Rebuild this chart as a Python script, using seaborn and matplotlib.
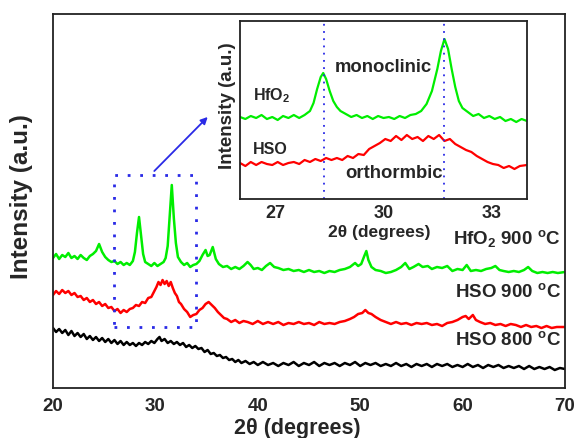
import numpy as np
import pandas as pd
import matplotlib
matplotlib.use("Agg")
import matplotlib.pyplot as plt
import seaborn as sns

# ---------------- data ----------------
green_x = [20.0,20.3,20.6,20.9,21.2,21.5,21.8,22.1,22.4,22.7,23.0,23.3,23.6,23.9,24.2,24.5,24.8,25.1,25.4,25.7,
           26.0,26.3,26.6,26.9,27.2,27.5,27.8,28.0,28.2,28.4,28.6,28.8,29.0,29.3,29.6,29.9,30.2,30.5,30.8,31.0,
           31.2,31.4,31.6,31.8,32.0,32.2,32.5,32.8,33.1,33.4,33.7,34.0,34.3,34.6,34.9,35.1,35.3,35.6,35.9,36.2,
           36.6,37.0,37.4,37.8,38.2,38.6,39.0,39.3,39.6,40.0,40.4,40.8,41.2,41.6,42.0,42.5,43.0,43.5,44.0,44.5,
           45.0,45.5,46.0,46.5,47.0,47.5,48.0,48.5,49.0,49.5,49.8,50.1,50.4,50.6,50.8,51.1,51.5,52.0,52.5,53.0,
           53.5,54.0,54.4,54.8,55.2,55.7,56.1,56.6,57.0,57.5,58.0,58.5,59.0,59.5,60.0,60.4,60.8,61.3,61.8,62.3,
           62.8,63.2,63.6,64.0,64.5,65.0,65.5,66.0,66.4,66.8,67.3,67.8,68.3,68.8,69.3,70.0]
green_y = [130,134,129,133,131,135,130,132,129,133,130,128,132,134,137,144,136,131,128,126,
           127,124,126,123,125,123,127,136,155,171,152,134,126,124,122,125,122,124,126,130,
           142,172,203,170,145,131,126,123,125,121,123,124,127,133,138,132,133,141,129,124,
           121,122,119,121,119,122,126,123,119,120,118,122,125,121,120,118,119,117,118,116,
           118,116,117,115,117,116,118,119,121,125,122,124,132,137,128,121,118,117,115,116,
           118,121,125,119,121,124,121,122,119,121,120,122,117,119,118,123,117,118,117,119,
           120,122,118,117,116,117,116,118,121,117,115,116,115,116,115,116]

red_x = [20.0,20.3,20.6,20.9,21.2,21.5,21.8,22.1,22.4,22.7,23.0,23.3,23.6,23.9,24.2,24.5,24.8,25.1,25.4,25.7,
         26.0,26.3,26.6,26.9,27.2,27.5,27.8,28.1,28.4,28.7,29.0,29.3,29.6,29.9,30.1,30.3,30.5,30.7,30.9,31.1,
         31.3,31.5,31.7,31.9,32.1,32.3,32.5,32.8,33.1,33.4,33.7,34.0,34.3,34.6,34.9,35.2,35.5,35.8,36.1,36.4,
         36.7,37.0,37.4,37.8,38.2,38.6,39.0,39.5,40.0,40.5,41.0,41.5,42.0,42.5,43.0,43.5,44.0,44.5,45.0,45.5,
         46.0,46.5,47.0,47.5,48.0,48.5,49.0,49.4,49.8,50.2,50.5,50.8,51.1,51.5,52.0,52.5,53.0,53.5,54.0,54.5,
         55.0,55.5,56.0,56.5,57.0,57.5,58.0,58.5,59.0,59.5,60.0,60.3,60.6,61.0,61.3,61.7,62.2,62.7,63.2,63.7,
         64.2,64.7,65.2,65.7,66.2,66.7,67.2,67.7,68.2,68.7,69.2,70.0]
red_y = [93,97,94,98,95,97,93,95,91,92,88,90,86,88,84,86,82,84,80,81,
         77,79,75,78,76,79,80,83,82,86,85,90,91,97,101,106,103,108,104,107,
         102,106,100,95,92,86,84,79,76,71,73,74,78,80,84,86,83,80,76,73,
         70,69,66,68,65,67,66,64,67,64,66,64,66,63,65,64,66,64,65,63,
         66,64,65,64,66,67,69,71,74,75,78,75,74,71,68,66,64,66,64,65,
         63,65,64,65,63,64,62,65,66,68,71,72,69,73,68,66,64,65,63,64,
         62,64,63,61,63,61,62,60,62,60,61,61]

black_x = [20.0,20.3,20.6,20.9,21.2,21.5,21.8,22.1,22.4,22.7,23.0,23.3,23.6,23.9,24.2,24.5,24.8,25.1,25.4,25.7,
           26.0,26.3,26.6,26.9,27.2,27.5,27.8,28.1,28.4,28.7,29.0,29.3,29.6,29.9,30.2,30.4,30.6,30.9,31.2,31.5,
           31.8,32.1,32.4,32.7,33.0,33.3,33.6,33.9,34.2,34.5,34.8,35.1,35.4,35.7,36.0,36.3,36.6,36.9,37.2,37.5,
           37.8,38.1,38.4,38.8,39.2,39.6,40.0,40.5,41.0,41.5,42.0,42.5,43.0,43.5,44.0,44.5,45.0,45.5,46.0,46.5,
           47.0,47.5,48.0,48.5,49.0,49.5,50.0,50.5,51.0,51.5,52.0,52.5,53.0,53.5,54.0,54.5,55.0,55.5,56.0,56.5,
           57.0,57.5,58.0,58.5,59.0,59.5,60.0,60.5,61.0,61.5,62.0,62.5,63.0,63.5,64.0,64.5,65.0,65.5,66.0,66.5,
           67.0,67.5,68.0,68.5,69.0,69.5,70.0]
black_y = [60,56,59,55,58,53,57,52,55,51,54,49,52,48,51,47,50,46,49,45,
           48,44,47,43,46,43,45,42,45,43,46,44,47,45,49,51,47,49,45,47,
           44,46,43,45,41,43,40,42,39,40,36,38,34,35,32,33,30,31,28,29,
           26,28,25,27,24,26,23,26,23,25,22,25,23,26,22,25,23,26,22,25,
           23,25,22,25,23,26,22,25,23,25,22,24,22,25,22,24,21,24,22,24,
           21,24,22,24,21,23,21,24,21,23,20,23,21,23,20,22,20,22,19,22,
           19,21,19,21,18,20,19]

inset_x = [26.0,26.15,26.3,26.45,26.6,26.75,26.9,27.05,27.2,27.35,27.5,27.65,27.8,27.95,28.05,28.15,28.25,28.32,28.4,28.5,
           28.6,28.7,28.8,28.95,29.1,29.25,29.4,29.55,29.7,29.85,30.0,30.15,30.3,30.45,30.6,30.75,30.9,31.05,31.2,31.35,
           31.5,31.6,31.7,31.8,31.9,32.0,32.1,32.2,32.35,32.5,32.65,32.8,32.95,33.1,33.25,33.4,33.55,33.7,33.85,34.0]
inset_green = [82,80,83,81,84,80,82,79,83,81,84,81,84,88,96,110,122,126,120,108,
               98,92,88,85,82,84,81,83,80,83,81,82,80,83,81,84,85,88,95,108,
               130,148,160,150,130,112,98,91,87,83,85,81,83,80,82,78,80,77,80,78]
inset_red_x = [26.0,26.15,26.3,26.45,26.6,26.75,26.9,27.05,27.2,27.35,27.5,27.65,27.8,27.95,28.1,28.25,28.4,28.55,28.7,28.85,
               29.0,29.15,29.3,29.45,29.6,29.75,29.9,30.05,30.2,30.35,30.5,30.65,30.8,30.95,31.1,31.25,31.4,31.55,31.7,31.85,
               32.0,32.15,32.3,32.45,32.6,32.75,32.9,33.05,33.2,33.35,33.5,33.65,33.8,34.0]
inset_red = [36,33,37,34,37,35,34,37,34,36,37,35,39,37,40,38,41,39,41,39,
             43,41,45,44,50,53,56,60,58,63,59,64,60,62,58,63,60,64,58,60,
             55,52,49,47,43,40,37,35,34,31,33,30,33,34]

main_ticks = [20, 30, 40, 50, 60, 70]
inset_ticks = [27, 30, 33]
peak_lines = [28.35, 31.7]
series_labels = [r"HfO$_\mathbf{2}$ 900 $^\mathbf{o}$C", r"HSO 900 $^\mathbf{o}$C", r"HSO 800 $^\mathbf{o}$C"]

# ---------------- style ----------------
sns.set_style("white")
plt.rcParams['font.family'] = ['Liberation Sans', 'DejaVu Sans']
plt.rcParams['font.weight'] = 'bold'
plt.rcParams['mathtext.fontset'] = 'custom'
plt.rcParams['mathtext.rm'] = 'Liberation Sans:bold'
plt.rcParams['mathtext.bf'] = 'Liberation Sans:bold'
plt.rcParams['mathtext.default'] = 'bf'

GREEN = "#00ee00"
RED = "#ff0000"
BLUE = "#2a2ae6"

fig = plt.figure(figsize=(5.78, 4.38), dpi=100)
ax = fig.add_axes([53/578, 50/438, 512/578, 374/438])

df = pd.concat([
    pd.DataFrame({"x": green_x, "y": green_y, "s": "g"}),
    pd.DataFrame({"x": red_x, "y": red_y, "s": "r"}),
    pd.DataFrame({"x": black_x, "y": black_y, "s": "k"}),
])
sns.lineplot(data=df, x="x", y="y", hue="s", palette={"g": GREEN, "r": RED, "k": "black"},
             estimator=None, sort=False, lw=1.8, legend=False, ax=ax)

ax.set_xlim(20, 70)
ax.set_ylim(0, 374)
ax.set_xticks(main_ticks)
ax.set_xticks([25, 35, 45, 55, 65], minor=True)
ax.set_yticks([])
ax.tick_params(axis='x', which='both', direction='in', length=5, width=1.2, top=False,
               labelsize=13.5, pad=7)
ax.tick_params(axis='x', which='minor', length=3)
for t in ax.get_xticklabels():
    t.set_fontweight('bold')
for s in ax.spines.values():
    s.set_linewidth(1.3)
    s.set_color('#222222')
ax.set_xlabel("2θ (degrees)", fontsize=15.5, fontweight='bold')
ax.xaxis.set_label_coords(0.477, -0.079)
ax.set_ylabel("Intensity (a.u.)", fontsize=17.5, fontweight='bold')
ax.yaxis.set_label_coords(-0.04, 0.513)

# series labels
ax.text(69.6, 150, series_labels[0], ha='right', va='center', fontsize=13.5, fontweight='bold')
ax.text(69.6, 96, series_labels[1], ha='right', va='center', fontsize=13.5, fontweight='bold')
ax.text(69.6, 48, series_labels[2], ha='right', va='center', fontsize=13.5, fontweight='bold')

# dotted zoom box
ax.plot([26, 34, 34, 26, 26], [61, 61, 213, 213, 61], ls=(0, (1, 3.5)), color=BLUE, lw=2.0)
ax.annotate("", xy=(35.3, 273), xytext=(29.7, 215),
            arrowprops=dict(arrowstyle="-|>", color=BLUE, lw=1.3, mutation_scale=10),
            annotation_clip=False)

# ---------------- inset ----------------
ai = fig.add_axes([240/578, (438-199)/438, 287/578, 178/438])
dfi = pd.concat([
    pd.DataFrame({"x": inset_x, "y": inset_green, "s": "g"}),
    pd.DataFrame({"x": inset_red_x, "y": inset_red, "s": "r"}),
])
sns.lineplot(data=dfi, x="x", y="y", hue="s", palette={"g": GREEN, "r": RED},
             estimator=None, sort=False, lw=1.6, legend=False, ax=ai)
for p in peak_lines:
    ai.axvline(p, color=BLUE, ls=(0, (1, 3)), lw=1.3)
ai.set_xlim(26, 34)
ai.set_ylim(0, 178)
ai.set_xticks(inset_ticks)
ai.set_yticks([])
ai.tick_params(axis='x', direction='in', length=4, width=1.1, labelsize=13, pad=4)
for t in ai.get_xticklabels():
    t.set_fontweight('bold')
for s in ai.spines.values():
    s.set_linewidth(1.3)
    s.set_color('#222222')
ai.set_xlabel("2θ (degrees)", fontsize=12.5, fontweight='bold')
ai.xaxis.set_label_coords(0.485, -0.145)
ai.set_ylabel("Intensity (a.u.)", fontsize=13.5, fontweight='bold')
ai.yaxis.set_label_coords(-0.015, 0.525)
ai.text(30.0, 131, "monoclinic", ha='center', va='center', fontsize=13.3, fontweight='bold')
ai.text(30.3, 26, "orthormbic", ha='center', va='center', fontsize=13.3, fontweight='bold')
ai.text(26.35, 103, r"HfO$_\mathbf{2}$", ha='left', va='center', fontsize=11.5, fontweight='bold')
ai.text(26.35, 50, "HSO", ha='left', va='center', fontsize=11.5, fontweight='bold')

fig.savefig("out.png", dpi=100)
